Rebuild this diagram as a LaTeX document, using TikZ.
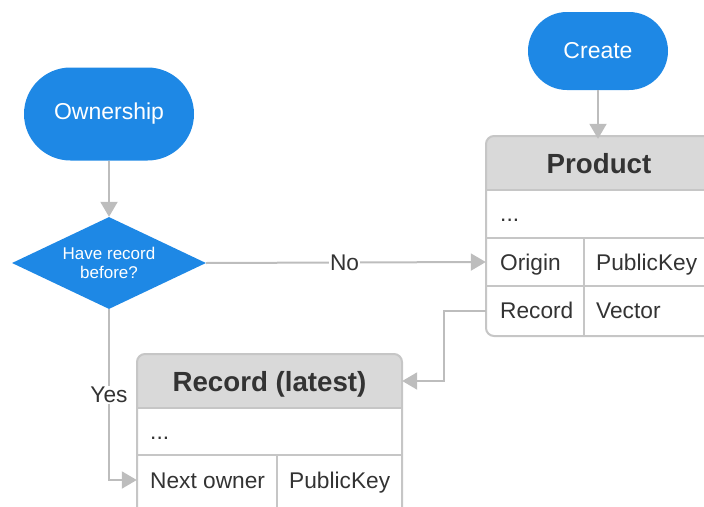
\documentclass[tikz,border=0pt]{standalone}
\usepackage{fontspec}
\setmainfont{Liberation Sans}
\usetikzlibrary{shapes.geometric,shapes.misc,arrows.meta}
\definecolor{flowblue}{HTML}{1E88E5}
\definecolor{headgray}{HTML}{D9D9D9}
\definecolor{bordergray}{HTML}{C6C6C6}
\definecolor{conngray}{HTML}{BDBDBD}
\definecolor{txt}{HTML}{333333}
\tikzset{
  terminal/.style={rounded rectangle, fill=flowblue, draw=none, text=white, font=\fontsize{23}{26}\selectfont, inner sep=0pt},
  decision/.style={diamond, fill=flowblue, draw=none, text=white, font=\fontsize{17}{19}\selectfont, align=center, inner sep=0pt, minimum width=194pt, minimum height=92pt, aspect=2.1},
  conn/.style={draw=conngray, line width=2pt, -{Triangle[length=15pt,width=17pt]}},
  tline/.style={draw=bordergray, line width=2pt},
  headtxt/.style={font=\bfseries\fontsize{27.7}{30}\selectfont, text=txt, inner sep=0pt, anchor=base},
  celltxt/.style={font=\fontsize{22.7}{26}\selectfont, text=txt, inner sep=0pt, anchor=base west},
  lbl/.style={font=\fontsize{22.7}{26}\selectfont, text=txt, fill=white, inner sep=1pt},
  cellrow/.style={inner sep=0pt, minimum height=48pt},
}
\begin{document}
\begin{tikzpicture}[x=1pt,y=-1pt]
\useasboundingbox (0,0) rectangle (704,506);
\clip (0,0) rectangle (704,506);
% Create and Ownership
\node[terminal, minimum width=140pt, minimum height=78pt] (create) at (598,51) {Create};
\node[terminal, minimum width=170pt, minimum height=93pt] (own) at (109,114) {\raisebox{-1.5pt}{Ownership}};
\node[decision] (dec) at (109,263) {Have record\\before?};
% Product table
\fill[white, rounded corners=8pt] (486,136) rectangle (712,336);
\fill[headgray] (486,190) [rounded corners=8pt] -- (486,136) -- (712,136) [sharp corners] -- (712,190) -- cycle;
\draw[tline, rounded corners=8pt] (486,136) rectangle (712,336);
\draw[tline] (486,190) -- (712,190);
\draw[tline] (486,238) -- (712,238);
\draw[tline] (486,286) -- (712,286);
\draw[tline] (584,238) -- (584,336);
\node[cellrow, minimum width=226pt] (prodhead) at (599,163) {};
\node[headtxt] at ([yshift=-10pt]prodhead.center) {Product};
\node[cellrow, minimum width=98pt] (prodorig) at (535,262) {};
\node[cellrow, minimum width=98pt] (prodrec) at (535,311) {};
\node[celltxt] at (500,221) {...};
\node[celltxt] at (500,270) {Origin};
\node[celltxt] at (596,270) {PublicKey};
\node[celltxt] at (500,318) {Record};
\node[celltxt] at (596,318) {Vector};
% Record (latest) table
\fill[white, rounded corners=8pt] (137,354) rectangle (402,530);
\fill[headgray] (137,408) [rounded corners=8pt] -- (137,354) -- (402,354) [sharp corners] -- (402,408) -- cycle;
\draw[tline, rounded corners=8pt] (137,354) rectangle (402,530);
\draw[tline] (137,408) -- (402,408);
\draw[tline] (137,455) -- (402,455);
\draw[tline] (277,455) -- (277,530);
\node[cellrow, minimum width=265pt] (rechead) at (269.5,381) {};
\node[headtxt] at ([yshift=-10pt]rechead.center) {Record (latest)};
\node[cellrow, minimum width=140pt] (recnext) at (207,480) {};
\node[celltxt] at (150,439) {...};
\node[celltxt] at (150,488) {Next owner};
\node[celltxt] at (289,488) {PublicKey};
% connectors
\draw[conn] (create.south) -- (create.south |- prodhead.north);
\draw[conn] (own.south) -- (dec.north);
\draw[conn] (dec.east) -- node[lbl, pos=0.495] {No} (prodorig.west);
\draw[conn] (prodrec.west) -- ++(-42,0) |- (rechead.east);
\draw[conn] (dec.south) |- node[lbl, pos=0.25] {Yes} (recnext.west);
\end{tikzpicture}
\end{document}
